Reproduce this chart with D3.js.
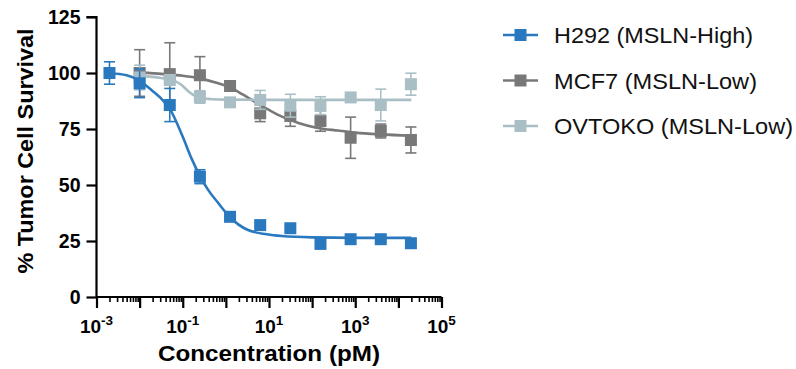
<!DOCTYPE html>
<html>
<head>
<meta charset="utf-8">
<script src="https://cdn.jsdelivr.net/npm/d3@7"></script>
<style>
  html, body { margin: 0; padding: 0; background: #fff; }
  svg { display: block; }
  text { font-family: "Liberation Sans", Arial, Helvetica, sans-serif; }
</style>
</head>
<body>
<svg id="chart" width="796" height="369"></svg>
<script>
// ---------- DATA ----------
const seriesNames = ["H292 (MSLN-High)", "MCF7 (MSLN-Low)", "OVTOKO (MSLN-Low)"];
const seriesColors = ["#2a79bf", "#787878", "#a9bfc5"];

// concentrations (pM)
const concH292 = [0.002, 0.01, 0.05, 0.25, 1.25, 6.25, 31.25, 156.25, 781.25, 3906.25, 19531.25];
const concLow  = [0.01, 0.05, 0.25, 1.25, 6.25, 31.25, 156.25, 781.25, 3906.25, 19531.25];

// mean % survival and error
const meanH292 = [100, 95.4, 85.7, 53.7, 35.8, 32.1, 30.7, 23.7, 25.8, 25.8, 24.0];
const errH292  = [5.0, 6.4, 7.4, 3.1, 1.0, 1.0, 1.0, 1.5, 1.0, 1.5, 1.0];
const meanMCF7 = [100, 99.5, 99.0, 94.2, 82.0, 80.8, 78.6, 71.1, 74.1, 70.1];
const errMCF7  = [10.4, 14.0, 8.3, 1.0, 3.7, 4.6, 4.6, 9.2, 3.1, 5.8];
const meanOVT  = [98.0, 96.9, 89.3, 86.9, 88.0, 85.4, 85.4, 89.1, 85.7, 95.0];
const errOVT   = [5.5, 2.2, 2.8, 1.0, 4.2, 5.1, 4.0, 1.0, 7.1, 4.9];

// fitted curves: log10(conc) and % survival
const fitLogH292 = [-2.7, -2.3, -2.0, -1.7, -1.47, -1.3, -1.0, -0.8, -0.6, -0.4, -0.2, 0.1, 0.5, 0.95, 1.3, 2.0, 3.0, 4.3];
const fitValH292 = [99.9, 99.0, 96.5, 92.0, 88.0, 84.0, 71.5, 62.0, 54.0, 47.5, 42.5, 35.5, 30.0, 28.0, 27.2, 26.6, 26.4, 26.4];
const fitLogMCF7 = [-2.0, -1.5, -1.0, -0.6, -0.2, 0.1, 0.4, 0.7, 1.0, 1.3, 1.7, 2.1, 2.6, 3.0, 3.6, 4.3];
const fitValMCF7 = [100.3, 99.6, 98.8, 97.6, 95.5, 93.5, 90.3, 86.8, 83.5, 80.5, 77.6, 75.6, 74.3, 73.4, 72.6, 72.0];
const fitLogOVT  = [-2.0, -1.5, -1.3, -1.05, -0.85, -0.65, -0.3, 0.0, 1.0, 2.0, 3.0, 4.3];
const fitValOVT  = [98.7, 97.8, 97.2, 95.0, 91.5, 89.2, 88.3, 88.1, 88.0, 88.0, 88.0, 88.0];

const yTicks = [0, 25, 50, 75, 100, 125];
const xTickExps = [-3, -1, 1, 3, 5];
const xTitle = "Concentration (pM)";
const yTitle = "% Tumor Cell Survival";

// ---------- CHART ----------
const svg = d3.select("#chart");
const x = d3.scaleLog().domain([1e-3, 1e5]).range([96.5, 441.5]);
const y = d3.scaleLinear().domain([0, 125]).range([297, 17]);

// y axis
const yAxis = d3.axisLeft(y).tickValues(yTicks).tickSize(10).tickPadding(6).tickFormat(d3.format("d"));
const gy = svg.append("g").attr("transform", `translate(${x.range()[0]},0)`).call(yAxis);
gy.select(".domain").attr("stroke", "#000").attr("stroke-width", 2.2).attr("d", `M-10,${y(125)}H0V${y(0)}`);
gy.selectAll(".tick line").attr("stroke", "#000").attr("stroke-width", 2.2);
gy.selectAll(".tick text").attr("font-size", 19.5).attr("font-weight", "bold").attr("fill", "#000")
  .attr("font-family", "Liberation Sans, Arial, sans-serif");

// x axis: major and minor ticks
const gx = svg.append("g").attr("transform", `translate(0,${y(0)})`);
const majors = d3.range(-3, 6).map(e => Math.pow(10, e));
const minors = [];
for (let e = -3; e < 5; e++) for (let k = 2; k <= 9; k++) minors.push(k * Math.pow(10, e));
gx.append("g").call(d3.axisBottom(x).tickValues(minors).tickSize(5).tickFormat(""))
  .call(g => { g.select(".domain").remove(); g.selectAll("line").attr("stroke", "#000").attr("stroke-width", 1.6); });
const gxMaj = gx.append("g").call(d3.axisBottom(x).tickValues(majors).tickSize(11).tickFormat(""));
gxMaj.select(".domain").attr("stroke", "#000").attr("stroke-width", 2.2).attr("d", `M${x.range()[0]},0H${x.range()[1]}`);
gxMaj.selectAll("line").attr("stroke", "#000").attr("stroke-width", 2.2);

// x tick labels with superscripts
xTickExps.forEach(e => {
  const t = gx.append("text")
    .attr("x", x(Math.pow(10, e))).attr("y", 36)
    .attr("text-anchor", "middle").attr("font-size", 19).attr("font-weight", "bold").attr("fill", "#000");
  t.append("tspan").text("10");
  t.append("tspan").attr("dy", -8).attr("font-size", 13.5).text(String(e));
});

// titles
svg.append("text").attr("x", 269).attr("y", 361).attr("text-anchor", "middle")
  .attr("font-size", 22).attr("font-weight", "bold").attr("fill", "#000")
  .attr("textLength", 222).attr("lengthAdjust", "spacingAndGlyphs").text(xTitle);
svg.append("text").attr("transform", `translate(33,151) rotate(-90)`).attr("text-anchor", "middle")
  .attr("font-size", 22).attr("font-weight", "bold").attr("fill", "#000")
  .attr("textLength", 245).attr("lengthAdjust", "spacingAndGlyphs").text(yTitle);

// series
const series = [
  { name: seriesNames[1], color: seriesColors[1], conc: concLow, mean: meanMCF7, err: errMCF7, fitLog: fitLogMCF7, fitVal: fitValMCF7 },
  { name: seriesNames[2], color: seriesColors[2], conc: concLow, mean: meanOVT, err: errOVT, fitLog: fitLogOVT, fitVal: fitValOVT },
  { name: seriesNames[0], color: seriesColors[0], conc: concH292, mean: meanH292, err: errH292, fitLog: fitLogH292, fitVal: fitValH292 }
];
const line = d3.line().x(d => x(Math.pow(10, d[0]))).y(d => y(d[1])).curve(d3.curveMonotoneX);
const sq = 12, cap = 11;

series.forEach(s => {
  const g = svg.append("g");
  g.append("path").datum(d3.zip(s.fitLog, s.fitVal)).attr("d", line)
    .attr("fill", "none").attr("stroke", s.color).attr("stroke-width", 2.6);
  const pts = s.conc.map((c, i) => ({ c, m: s.mean[i], e: s.err[i] }));
  const eb = g.selectAll(".eb").data(pts).enter().append("g");
  eb.append("line").attr("x1", d => x(d.c)).attr("x2", d => x(d.c))
    .attr("y1", d => y(d.m + d.e)).attr("y2", d => y(d.m - d.e)).attr("stroke", s.color).attr("stroke-width", 1.6);
  eb.append("line").attr("x1", d => x(d.c) - cap / 2).attr("x2", d => x(d.c) + cap / 2)
    .attr("y1", d => y(d.m + d.e)).attr("y2", d => y(d.m + d.e)).attr("stroke", s.color).attr("stroke-width", 1.6);
  eb.append("line").attr("x1", d => x(d.c) - cap / 2).attr("x2", d => x(d.c) + cap / 2)
    .attr("y1", d => y(d.m - d.e)).attr("y2", d => y(d.m - d.e)).attr("stroke", s.color).attr("stroke-width", 1.6);
  g.selectAll(".pt").data(pts).enter().append("rect")
    .attr("x", d => x(d.c) - sq / 2).attr("y", d => y(d.m) - sq / 2)
    .attr("width", sq).attr("height", sq).attr("fill", s.color);
});

// legend
const legendWidths = [199, 203, 239];
const legend = svg.append("g");
seriesNames.forEach((n, i) => {
  const ly = 35 + i * 45.5;
  const row = legend.append("g").attr("transform", `translate(0,${ly})`);
  row.append("line").attr("x1", 503).attr("x2", 538).attr("y1", 0).attr("y2", 0)
    .attr("stroke", seriesColors[i]).attr("stroke-width", 2.6);
  row.append("rect").attr("x", 520.5 - sq / 2).attr("y", -sq / 2).attr("width", sq).attr("height", sq).attr("fill", seriesColors[i]);
  row.append("text").attr("x", 554).attr("y", 8).attr("font-size", 22).attr("fill", "#111")
    .attr("textLength", legendWidths[i]).attr("lengthAdjust", "spacingAndGlyphs").text(n);
});
</script>
</body>
</html>
